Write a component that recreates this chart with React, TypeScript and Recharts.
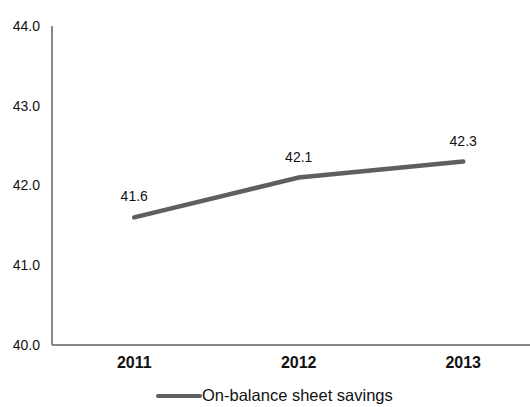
import React from 'react';
import { LineChart, Line, XAxis, YAxis, LabelList, Legend } from 'recharts';

const years = [2011, 2012, 2013];
const savings = [41.6, 42.1, 42.3];
const yTicks = [40, 41, 42, 43, 44];
const seriesName = 'On-balance sheet savings';

const data = years.map((y, i) => ({ year: y, value: savings[i] }));

const FONT = '"Liberation Sans", Arial, sans-serif';

const LegendContent = () => (
  <div style={{ display: 'flex', alignItems: 'center', fontFamily: FONT, fontSize: 16.5, color: '#111', whiteSpace: 'nowrap' }}>
    <svg width={46} height={8} style={{ display: 'block' }}>
      <line x1={2} y1={4} x2={44} y2={4} stroke="#5f5f5f" strokeWidth={4} strokeLinecap="round" />
    </svg>
    <span>{seriesName}</span>
  </div>
);

export default function App() {
  return (
    <div style={{ position: 'absolute', left: 0, top: 0 }}>
      <LineChart width={530} height={407} data={data} margin={{ top: 26, right: 0, left: 0, bottom: 32 }}>
        <XAxis
          dataKey="year"
          type="number"
          domain={[2010.5, 2013.406]}
          ticks={years}
          allowDataOverflow
          height={30}
          tickLine={false}
          tickSize={0}
          tickMargin={12}
          axisLine={{ stroke: '#878787', strokeWidth: 2 }}
          tick={{ fill: '#111', fontSize: 16, fontWeight: 'bold', fontFamily: FONT }}
        />
        <YAxis
          domain={[40, 44]}
          ticks={yTicks}
          width={52}
          tickLine={false}
          tickSize={0}
          tickMargin={12}
          axisLine={{ stroke: '#878787', strokeWidth: 2 }}
          tickFormatter={(v: number) => v.toFixed(1)}
          tick={{ fill: '#111', fontSize: 14, fontFamily: FONT }}
        />
        <Legend
          verticalAlign="middle"
          layout="horizontal"
          content={<LegendContent />}
          wrapperStyle={{ position: 'absolute', left: 156, top: 386, width: 'auto', height: 24 }}
        />
        <Line
          dataKey="value"
          name={seriesName}
          stroke="#5f5f5f"
          strokeWidth={4.5}
          strokeLinecap="round"
          dot={false}
          activeDot={false}
          isAnimationActive={false}
        >
          <LabelList
            dataKey="value"
            position="top"
            offset={16}
            formatter={(v: number) => v.toFixed(1)}
            style={{ fill: '#111', fontSize: 14, fontFamily: FONT }}
          />
        </Line>
      </LineChart>
    </div>
  );
}
